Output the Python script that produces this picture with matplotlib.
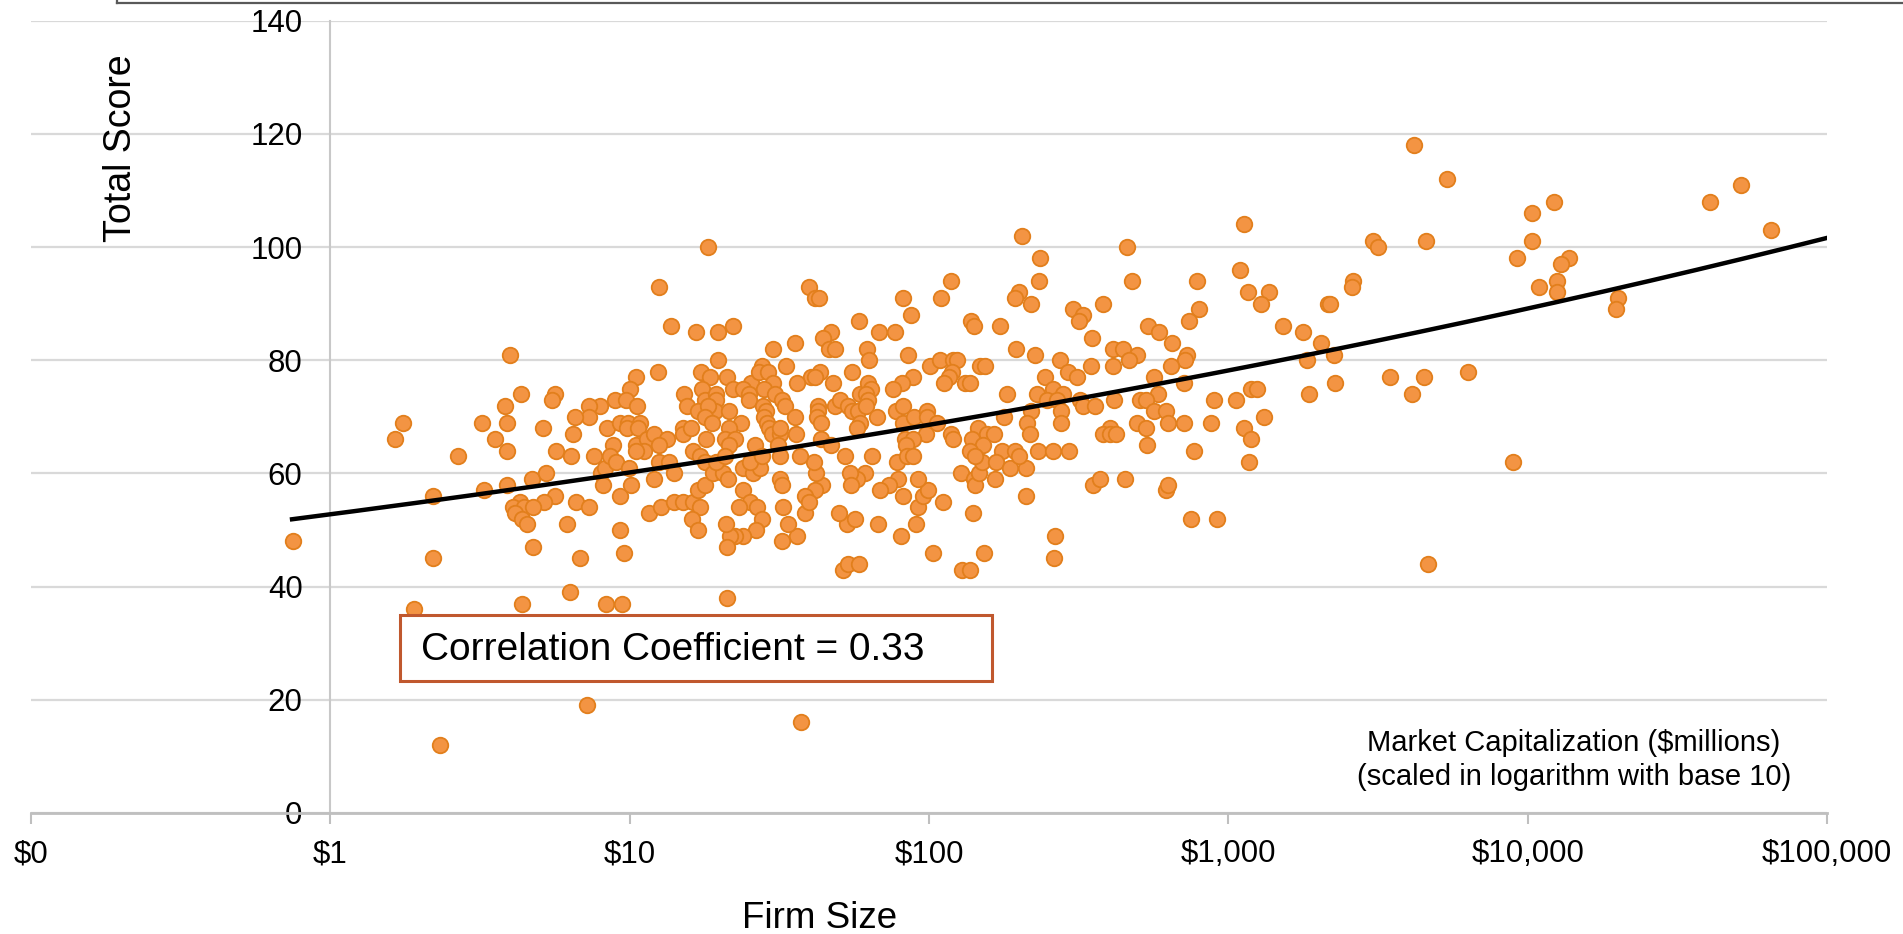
import matplotlib
matplotlib.use("Agg")
import matplotlib.pyplot as plt
from matplotlib.patches import Rectangle
from matplotlib.lines import Line2D
import numpy as np

plt.rcParams['font.family'] = ['Liberation Sans', 'DejaVu Sans']

# Firm size (market cap, $millions) and total score
market_cap = [
    # small firms ($1 - $35M), upper half
    18.2, 12.5, 3.98, 13.7, 16.6, 19.8, 22.1, 19.7, 30.1, 33.4, 12.4, 10.5, 10.0, 8.93, 9.72,
    10.6, 7.96, 7.33, 7.33, 6.55, 6.47, 5.64, 5.49, 4.33, 3.84, 3.90, 3.21, 3.54, 1.75, 1.65,
    5.14, 8.37, 9.28, 9.89, 10.8, 9.77, 10.7, 8.81, 10.5, 11.4, 12.1, 13.3, 12.5, 15.2, 15.6,
    17.3, 18.5, 17.4, 17.8, 19.5, 19.4, 16.9, 19.3, 18.3, 17.8, 18.9, 21.2, 22.1, 21.5, 23.5,
    21.5, 25.4, 23.9, 25.1, 25.1, 27.6, 27.1, 28.9, 30.2, 28.2, 30.5, 32.4, 33.0, 27.8, 28.5,
    28.2, 28.7, 29.2, 29.8, 31.8, 31.8, 15.1, 15.1, 16.0, 18.0, 20.8, 22.5, 21.5, 16.3, 26.2,
    31.3,
    # mid firms ($35M - $2,000M), upper half
    204, 459, 1128, 235, 233, 477, 787, 1093, 1165, 1368, 1284, 798, 741, 1524, 1770,
    39.8, 41.6, 43.0, 118, 110, 82.0, 86.9, 58.5, 68.2, 77.0, 47.0, 44.3, 35.8, 46.5, 48.5,
    62.2, 63.1, 85.1, 138, 141, 172, 200, 194, 220, 302, 328, 316, 382, 351, 195,
    226, 539, 587, 649, 413, 446, 494, 465, 725, 715, 643, 347, 413, 274, 292,
    313, 244, 259, 229, 247, 281, 267, 319, 326, 358, 416, 275, 220, 275, 213,
    218, 182, 178, 565, 580, 506, 530, 565, 618, 630, 713, 494, 530, 533, 713,
    895, 1057, 1195, 1247, 1318, 872, 1127, 1195, 769, 1838, 1862, 401, 381, 403, 422,
    146, 156, 165, 139, 118, 120, 152, 175, 194, 232, 260, 293, 137, 101, 109,
    120, 124, 119, 117, 112, 132, 137, 148, 154, 88.5, 81.1, 76.0, 55.4, 43.4, 40.5,
    41.6, 36.1, 47.9, 35.6, 35.9, 42.6, 42.6, 42.1, 43.7, 48.5, 50.4, 53.7, 55.1, 58.0, 58.7,
    57.3, 43.5, 47.2, 58.7, 62.6, 63.9, 61.6, 62.6, 61.8, 67.1, 77.6, 82.1, 82.1, 89.1, 98.3,
    98.3, 106, 97.5, 83.2, 88.5, 84.1,
    # large firms
    4166, 5388, 12250, 10300, 40600, 51500, 64900, 3050, 3160, 4590, 10300, 9180, 13730, 12920, 12570,
    12500, 10920, 20000, 19780, 2600, 2580, 2155, 2193, 2036, 2250, 2270, 3460, 4494, 4120, 6340,
    8940, 4630,
    # mid firms, lower half
    1173, 352, 372, 451, 618, 630, 753, 914, 211, 263, 262, 140, 153, 103, 129,
    137, 51.6, 53.7, 58.3, 80.5, 90.2, 67.3, 53.4, 56.8, 50.1, 36.1, 38.5, 37.5, 111, 92.0,
    95.2, 99.5, 92.0, 82.0, 78.9, 73.4, 68.5, 78.3, 84.5, 88.5, 64.3, 52.4, 61.1, 57.3, 54.4,
    54.8, 44.0, 41.9, 41.3, 37.1, 41.6, 38.5, 39.8, 128, 141, 143, 147, 150, 142, 168,
    186, 211, 200, 166,
    # small firms, lower half
    0.748, 2.21, 2.21, 1.90, 2.32, 7.22, 2.68, 3.27, 3.88, 3.88, 4.72, 5.25, 5.64, 5.17, 4.30,
    4.08, 4.43, 4.74, 4.14, 4.36, 4.55, 4.76, 6.19, 6.61, 7.33, 6.82, 6.31, 4.36, 8.32, 9.45,
    21.2, 5.67, 6.35, 7.60, 8.02, 8.27, 8.59, 9.00, 8.12, 9.28, 9.28, 9.59, 9.97, 10.1, 11.2,
    12.5, 13.5, 12.1, 14.1, 11.6, 12.7, 14.1, 15.1, 16.3, 17.2, 16.2, 16.9, 16.9, 17.8, 17.2,
    17.8, 19.0, 20.5, 21.3, 19.5, 20.8, 23.9, 25.9, 27.2, 25.2, 27.6, 23.9, 25.2, 23.1, 26.7,
    27.6, 26.4, 23.9, 22.5, 21.6, 21.0, 21.1, 31.8, 32.2, 32.6, 32.2, 33.9, 31.8, 10.5,
]

total_score = [
    100, 93, 81, 86, 85, 85, 86, 80, 82, 79, 78, 77, 75, 73, 73,
    72, 72, 72, 70, 70, 67, 74, 73, 74, 72, 69, 69, 66, 69, 66,
    68, 68, 69, 69, 69, 68, 68, 65, 65, 66, 67, 66, 65, 74, 72,
    78, 77, 75, 73, 74, 73, 71, 71, 72, 70, 69, 77, 75, 71, 69,
    68, 76, 75, 74, 73, 79, 78, 78, 76, 75, 74, 73, 72, 72, 71,
    70, 69, 68, 67, 67, 68, 68, 67, 68, 66, 66, 66, 65, 64, 65,
    65,
    102, 100, 104, 98, 94, 94, 94, 96, 92, 92, 90, 89, 87, 86, 85,
    93, 91, 91, 94, 91, 91, 88, 87, 85, 85, 85, 84, 83, 82, 82,
    82, 80, 81, 87, 86, 86, 92, 91, 90, 89, 88, 87, 90, 84, 82,
    81, 86, 85, 83, 82, 82, 81, 80, 81, 80, 79, 79, 79, 80, 78,
    77, 77, 75, 74, 73, 74, 73, 73, 72, 72, 73, 71, 71, 69, 69,
    67, 74, 70, 77, 74, 73, 73, 71, 71, 69, 69, 69, 68, 65, 76,
    73, 73, 75, 75, 70, 69, 68, 66, 64, 80, 74, 68, 67, 67, 67,
    68, 67, 67, 66, 67, 66, 65, 64, 64, 64, 64, 64, 64, 79, 80,
    80, 80, 78, 77, 76, 76, 76, 79, 79, 77, 76, 75, 78, 78, 77,
    77, 76, 76, 70, 67, 72, 71, 70, 69, 72, 73, 72, 71, 71, 69,
    68, 66, 65, 74, 76, 75, 74, 73, 72, 70, 71, 72, 69, 70, 71,
    70, 69, 67, 66, 66, 65,
    118, 112, 108, 106, 108, 111, 103, 101, 100, 101, 101, 98, 98, 97, 94,
    92, 93, 91, 89, 94, 93, 90, 90, 83, 81, 76, 77, 77, 74, 78,
    62, 44,
    62, 58, 59, 59, 57, 58, 52, 52, 56, 49, 45, 53, 46, 46, 43,
    43, 43, 44, 44, 49, 51, 51, 51, 52, 53, 49, 53, 16, 55, 54,
    56, 57, 59, 56, 59, 58, 57, 62, 63, 63, 63, 63, 60, 59, 60,
    58, 58, 60, 62, 63, 57, 56, 55, 60, 59, 58, 60, 62, 63, 62,
    61, 61, 63, 59,
    48, 56, 45, 36, 12, 19, 63, 57, 58, 64, 59, 60, 56, 55, 55,
    54, 54, 54, 53, 52, 51, 47, 51, 55, 54, 45, 39, 37, 37, 37,
    38, 64, 63, 63, 60, 61, 63, 62, 58, 56, 50, 46, 61, 58, 64,
    62, 62, 59, 60, 53, 54, 55, 55, 55, 54, 52, 50, 57, 58, 63,
    62, 60, 60, 59, 62, 63, 61, 60, 61, 62, 63, 57, 55, 54, 54,
    52, 50, 49, 49, 49, 51, 47, 59, 58, 54, 48, 51, 63, 64,
]

# power trendline (y = a * x^b) as shown on the chart
trend_a = 52.78
trend_b = 0.0569
trend_range = (0.745, 100000)

x_ticks = [0.1, 1, 10, 100, 1000, 10000, 100000]
x_labels = ['$0', '$1', '$10', '$100', '$1,000', '$10,000', '$100,000']
y_ticks = [0, 20, 40, 60, 80, 100, 120, 140]

W, H = 1903, 934
fig = plt.figure(figsize=(W / 100, H / 100), dpi=100)


def fx(px):
    return px / W


def fy(py):
    return 1 - py / H


ax = fig.add_axes([fx(31), fy(813), (1827 - 31) / W, (813 - 20.7) / H])

ax.scatter(market_cap, total_score, s=125, c='#F39443', edgecolors='#E27F1C',
           linewidths=1.3, zorder=3, clip_on=False)

tx = np.logspace(np.log10(trend_range[0]), np.log10(trend_range[1]), 200)
ax.plot(tx, trend_a * tx ** trend_b, color='black', lw=3.2, zorder=4)

ax.set_xscale('log')
ax.set_xlim(0.1, 100000)
ax.set_ylim(0, 140)
ax.set_xticks(x_ticks)
ax.set_xticklabels(x_labels)
ax.xaxis.set_minor_locator(matplotlib.ticker.NullLocator())
ax.set_yticks(y_ticks)

ax.yaxis.grid(True, color='#D9D9D9', lw=1.6)
ax.set_axisbelow(True)

for s in ['top', 'right']:
    ax.spines[s].set_visible(False)
ax.spines['left'].set_position(('data', 1))
ax.spines['left'].set_color('#C8C8C8')
ax.spines['left'].set_linewidth(1.5)
ax.spines['bottom'].set_color('#BFBFBF')
ax.spines['bottom'].set_linewidth(2)

ax.tick_params(axis='x', direction='out', length=8, width=1.5, color='#BFBFBF',
               labelsize=22.5, pad=11)
ax.tick_params(axis='y', length=0, labelsize=22.5, pad=20)

fig.text(fx(121), fy(148), 'Total Score', rotation=90, ha='center', va='center', fontsize=27)
fig.text(fx(820), fy(919), 'Firm Size', ha='center', va='center', fontsize=26.5)

box = Rectangle((fx(400), fy(681)), fx(992) - fx(400), fy(615) - fy(681),
                transform=fig.transFigure, facecolor='white', edgecolor='#C0582E', lw=2.2, zorder=5)
fig.add_artist(box)
fig.text(fx(421), fy(650), 'Correlation Coefficient = 0.33', ha='left', va='center',
         fontsize=28, zorder=6)

fig.text(fx(1574), fy(760), 'Market Capitalization ($millions)\n(scaled in logarithm with base 10)',
         ha='center', va='center', multialignment='center', fontsize=21, linespacing=1.25)

# edge of the frame above the chart
fig.add_artist(Line2D([fx(117), fx(1903)], [fy(3), fy(3)], color='#595959', lw=1.6))
fig.add_artist(Line2D([fx(117), fx(117)], [fy(0), fy(3)], color='#595959', lw=1.6))

fig.savefig('out.png', dpi=100)
